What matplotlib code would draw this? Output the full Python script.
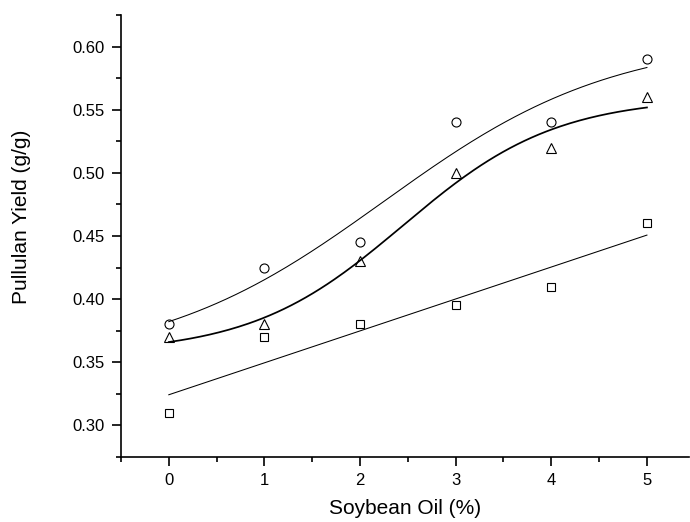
import numpy as np
import matplotlib
matplotlib.use('Agg')
import matplotlib.pyplot as plt
from matplotlib.ticker import MultipleLocator, FormatStrFormatter

plt.rcParams['font.family'] = ['Liberation Sans', 'DejaVu Sans']

# data
oil = [0, 1, 2, 3, 4, 5]
yield_circle = [0.38, 0.425, 0.445, 0.54, 0.54, 0.59]
yield_triangle = [0.37, 0.38, 0.43, 0.50, 0.52, 0.56]
yield_square = [0.31, 0.37, 0.38, 0.395, 0.41, 0.46]


def boltzmann_fit(x, y):
    # y = A2 + (A1 - A2) / (1 + exp((x - x0) / dx)), grid over x0/dx, LS for A1/A2
    x = np.asarray(x, float)
    y = np.asarray(y, float)
    best = None
    for x0 in np.linspace(0.0, 5.0, 101):
        for dx in np.linspace(0.2, 4.0, 96):
            s = 1.0 / (1.0 + np.exp((x - x0) / dx))
            A = np.column_stack([s, 1 - s])
            coef, *_ = np.linalg.lstsq(A, y, rcond=None)
            err = np.sum((A @ coef - y) ** 2)
            if best is None or err < best[0]:
                best = (err, x0, dx, coef)
    _, x0, dx, (a1, a2) = best
    return lambda t: a2 + (a1 - a2) / (1.0 + np.exp((t - x0) / dx))


fig = plt.figure(figsize=(6.9, 5.22), dpi=100)
ax = fig.add_axes([121 / 690, 1 - 457 / 522, 568 / 690, 442 / 522])

xs = np.linspace(0, 5, 200)
f_circle = boltzmann_fit(oil, yield_circle)
f_triangle = boltzmann_fit(oil, yield_triangle)
lin = np.polyfit(oil, yield_square, 1)

ax.plot(xs, f_circle(xs), color='black', lw=0.75)
ax.plot(xs, f_triangle(xs), color='black', lw=1.25)
ax.plot(xs, np.polyval(lin, xs), color='black', lw=0.75)

ax.plot(oil, yield_circle, 'o', ms=6.5, mfc='none', mec='black', mew=0.8)
ax.plot(oil, yield_triangle, '^', ms=7.5, mfc='none', mec='black', mew=0.8)
ax.plot(oil, yield_square, 's', ms=6, mfc='none', mec='black', mew=0.8)

ax.set_xlim(-0.5, 5.44)
ax.set_ylim(0.275, 0.625)
ax.xaxis.set_major_locator(MultipleLocator(1))
ax.xaxis.set_minor_locator(MultipleLocator(0.5))
ax.yaxis.set_major_locator(MultipleLocator(0.05))
ax.yaxis.set_minor_locator(MultipleLocator(0.025))
ax.yaxis.set_major_formatter(FormatStrFormatter('%.2f'))

for side in ['top', 'right']:
    ax.spines[side].set_visible(False)
for side in ['left', 'bottom']:
    ax.spines[side].set_linewidth(1.2)

ax.tick_params(which='major', direction='out', length=6.5, width=1.2,
               labelsize=12, pad=5)
ax.tick_params(which='minor', direction='out', length=3.6, width=1.2)

ax.set_xlabel('Soybean Oil (%)', fontsize=15, labelpad=8)
ax.set_ylabel('Pullulan Yield (g/g)', fontsize=15)
ax.yaxis.set_label_coords(-0.158, 0.543)

fig.savefig('out.png', dpi=100)
